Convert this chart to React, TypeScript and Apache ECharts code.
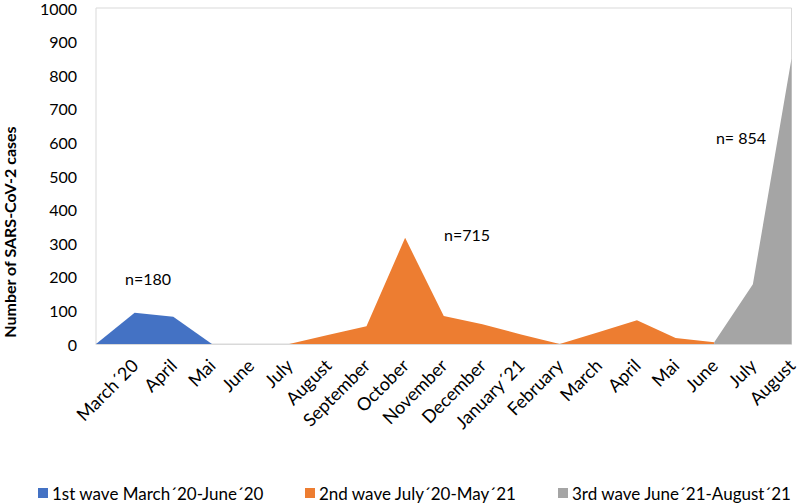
import React, { useEffect, useRef } from "react";
import * as echarts from "echarts";

const categories = ["", "March´20", "April", "Mai", "June", "July", "August", "September", "October", "November", "December", "January´21", "February", "March", "April", "Mai", "June", "July", "August"];
const wave1 = [0, 93, 81, 0, null, null, null, null, null, null, null, null, null, null, null, null, null, null, null];
const wave2 = [null, null, null, null, null, 0, 27, 53, 316, 83, 59, 28, 0, 35, 71, 18, 5, null, null];
const wave3 = [null, null, null, null, null, null, null, null, null, null, null, null, null, null, null, null, 5, 178, 850];
const seriesNames = ["1st wave March´20-June´20", "2nd wave July´20-May´21", "3rd wave June´21-August´21"];
const colors = ["#4472C4", "#ED7D31", "#A5A5A5"];
const yTicks = { min: 0, max: 1000, interval: 100 };
const annotations = ["n=180", "n=715", "n= 854"];

const FONT = "Lato, 'Noto Sans', sans-serif";

export default function App() {
  const ref = useRef<HTMLDivElement>(null);
  useEffect(() => {
    if (!ref.current) return;
    const chart = echarts.init(ref.current, null, { renderer: "svg" });
    const mk = (i: number, data: (number | null)[]) => ({
      name: seriesNames[i],
      type: "line",
      data,
      showSymbol: false,
      symbol: "none",
      connectNulls: false,
      lineStyle: { width: 0, color: colors[i] },
      itemStyle: { color: colors[i] },
      areaStyle: { color: colors[i], opacity: 1 },
    });
    const legendAt = (i: number, left: number) => ({
      data: [seriesNames[i]],
      left,
      top: 484,
      icon: "rect",
      itemWidth: 10,
      itemHeight: 10,
      itemGap: 4,
      padding: 0,
      textStyle: { fontFamily: FONT, fontSize: 17, lineHeight: 18, color: "#000", padding: [0, 0, 0, -1] },
    });
    chart.setOption({
      animation: false,
      backgroundColor: "#fff",
      textStyle: { fontFamily: FONT },
      grid: { left: 96, right: 4, top: 6, bottom: 160, show: true, borderColor: "#d9d9d9", borderWidth: 1, containLabel: false },
      legend: [legendAt(0, 38), legendAt(1, 305), legendAt(2, 558)],
      xAxis: {
        type: "category",
        data: categories,
        boundaryGap: false,
        axisLine: { show: true, lineStyle: { color: "#d9d9d9", width: 1 } },
        axisTick: { show: false },
        splitLine: { show: false },
        axisLabel: { interval: 0, rotate: 45, margin: 18, fontFamily: FONT, fontSize: 18, color: "#000" },
      },
      yAxis: {
        type: "value",
        min: yTicks.min,
        max: yTicks.max,
        interval: yTicks.interval,
        axisLine: { show: false },
        axisTick: { show: false },
        splitLine: { show: false },
        axisLabel: { margin: 19, fontFamily: FONT, fontSize: 16, color: "#000", formatter: (v: number) => String(v) },
      },
      series: [mk(0, wave1), mk(1, wave2), mk(2, wave3)],
      graphic: [
        { type: "text", x: 148, y: 278, style: { text: annotations[0], fontFamily: FONT, fontSize: 16, fill: "#000", textAlign: "center", textVerticalAlign: "middle" } },
        { type: "text", x: 467, y: 234, style: { text: annotations[1], fontFamily: FONT, fontSize: 16, fill: "#000", textAlign: "center", textVerticalAlign: "middle" } },
        { type: "text", x: 741, y: 137, style: { text: annotations[2], fontFamily: FONT, fontSize: 16, fill: "#000", textAlign: "center", textVerticalAlign: "middle" } },
        { type: "text", x: 9, y: 232, rotation: Math.PI / 2, style: { text: "Number of SARS-CoV-2 cases", fontFamily: FONT, fontSize: 16, fontWeight: "bold", fill: "#000", textAlign: "center", textVerticalAlign: "middle" } },
      ],
    });
    return () => chart.dispose();
  }, []);
  return <div ref={ref} style={{ position: "fixed", left: 0, top: 0, width: 800, height: 504 }} />;
}
